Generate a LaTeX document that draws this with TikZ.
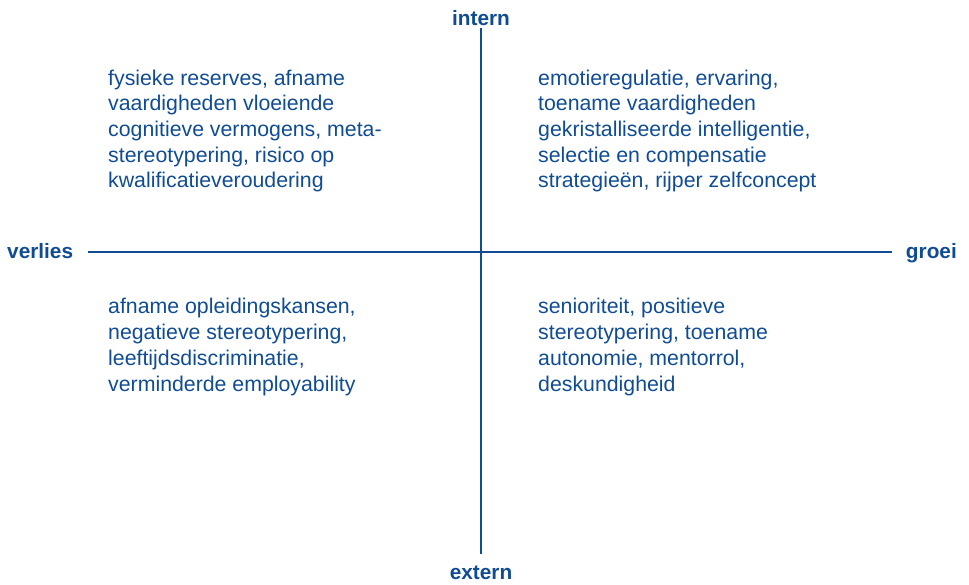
\documentclass[tikz,border=0pt]{standalone}
\usepackage{fontspec}
\setmainfont{Liberation Sans}
\definecolor{axblue}{RGB}{16,76,148}
\begin{document}
\begin{tikzpicture}[x=1pt,y=-1pt,
  axis/.style={draw=axblue,line width=2.8pt},
  lbl/.style={text=axblue,font=\fontsize{20.8}{25}\selectfont\bfseries,inner sep=0pt},
  blk/.style={text=axblue,font=\fontsize{21.3}{25.7}\selectfont,align=left,inner sep=0pt,anchor=base west}]
\useasboundingbox (0,0) rectangle (969,584);
\node[lbl,anchor=base] (in) at (481,25) {intern};
\node[lbl,anchor=base] (ex) at (481,579) {extern};
\node[lbl,anchor=base west] (ve) at (7,258.5) {verlies};
\node[lbl,anchor=base east] (gr) at (957,258.5) {groei};
\coordinate (top) at (481,28);
\coordinate (bot) at (481,554);
\coordinate (lft) at (88,252);
\coordinate (rgt) at (892,252);
\draw[axis] (top) -- (bot);
\draw[axis] (lft) -- (rgt);
% anchor base = baseline of the last line
\node[blk] (ul) at (108,187.8) {fysieke reserves, afname\\vaardigheden vloeiende\\cognitieve vermogens, meta-\\stereotypering, risico op\\kwalificatieveroudering};
\node[blk] (ur) at (538,187.8) {emotieregulatie, ervaring,\\toename vaardigheden\\gekristalliseerde intelligentie,\\selectie en compensatie\\strategieën, rijper zelfconcept};
\node[blk] (ll) at (108,391) {afname opleidingskansen,\\negatieve stereotypering,\\leeftijdsdiscriminatie,\\verminderde employability};
\node[blk] (lr) at (538,391) {senioriteit, positieve\\stereotypering, toename\\autonomie, mentorrol,\\deskundigheid};
\end{tikzpicture}
\end{document}
